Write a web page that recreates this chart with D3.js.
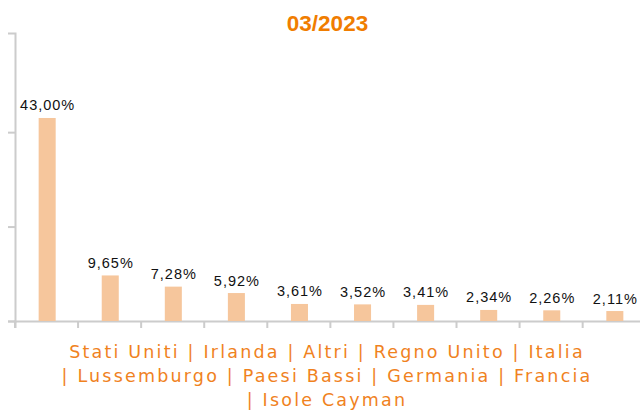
<!DOCTYPE html>
<html>
<head>
<meta charset="utf-8">
<script src="https://cdn.jsdelivr.net/npm/d3@7"></script>
<style>
  html, body { margin: 0; padding: 0; background: #fff; }
  svg { display: block; }
</style>
</head>
<body>
<svg id="chart" width="640" height="410"></svg>
<script>
const title = "03/2023";
const categories = ["Stati Uniti", "Irlanda", "Altri", "Regno Unito", "Italia",
  "Lussemburgo", "Paesi Bassi", "Germania", "Francia", "Isole Cayman"];
const values = [43.00, 9.65, 7.28, 5.92, 3.61, 3.52, 3.41, 2.34, 2.26, 2.11];
const yTicks = [0, 20, 40];
const lineBreaks = [5, 9]; // category indices where a new label line starts

(function () {
const plotLeft = 15, plotRight = 647, plotTop = 33, plotBottom = 321;
const svg = d3.select("#chart");

const x = d3.scaleBand().domain(categories).range([plotLeft, plotRight])
  .paddingInner(0.73).paddingOuter(0.375);
const y = d3.scaleLinear().domain([0, 61]).range([plotBottom, plotTop]);

const axisColor = "#cccccc";

// Y axis
const yAxis = svg.append("g").attr("transform", `translate(${plotLeft},0)`)
  .call(d3.axisLeft(y).tickValues(yTicks).tickSize(7).tickSizeOuter(7).tickFormat(""));
yAxis.selectAll("path,line").attr("stroke", axisColor).attr("stroke-width", 2);

// X axis (ticks at band boundaries)
const step = x.step();
const xAxis = svg.append("g").attr("transform", `translate(0,${plotBottom})`)
  .call(d3.axisBottom(x).tickSize(7).tickSizeOuter(7).tickFormat(""));
xAxis.selectAll(".tick").attr("transform", (d, i) => `translate(${plotLeft + i * step},0)`);
xAxis.selectAll("path,line").attr("stroke", axisColor).attr("stroke-width", 2);

// Bars
svg.append("g").selectAll("rect").data(values).join("rect")
  .attr("x", (d, i) => x(categories[i]))
  .attr("y", d => y(d))
  .attr("width", x.bandwidth())
  .attr("height", d => y(0) - y(d))
  .attr("fill", "#f6c69c");

// Value labels
const fmt = v => v.toFixed(2).replace(".", ",") + "%";
svg.append("g").selectAll("text").data(values).join("text")
  .attr("x", (d, i) => x(categories[i]) + x.bandwidth() / 2 + 0.5)
  .attr("y", d => y(d) - 7.5)
  .attr("text-anchor", "middle")
  .attr("font-family", "'Liberation Sans', Arial, Helvetica, sans-serif")
  .attr("font-size", 14.5)
  .attr("letter-spacing", 1)
  .attr("fill", "#111")
  .text(fmt);

// Title
svg.append("text")
  .attr("x", 327.5).attr("y", 31)
  .attr("text-anchor", "middle")
  .attr("font-family", "'Liberation Sans', Arial, Helvetica, sans-serif")
  .attr("font-weight", "bold")
  .attr("font-size", 22.5)
  .attr("fill", "#f07d00")
  .text(title);

// X axis title (category list)
const starts = [0, ...lineBreaks];
const lines = starts.map((s, k) => {
  const e = k + 1 < starts.length ? starts[k + 1] : categories.length;
  const part = categories.slice(s, e).join(" | ");
  return (k === 0 ? "" : "| ") + part;
});
svg.append("g").selectAll("text").data(lines).join("text")
  .attr("x", 327)
  .attr("y", (d, i) => 358 + i * 24)
  .attr("text-anchor", "middle")
  .attr("font-family", "'DejaVu Sans', Verdana, sans-serif")
  .attr("font-size", 17.5)
  .attr("letter-spacing", 2.2)
  .attr("fill", "#f0821e")
  .text(d => d);
})();
</script>
</body>
</html>
